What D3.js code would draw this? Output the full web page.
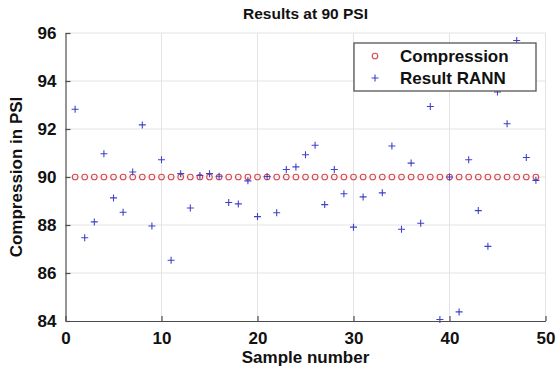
<!DOCTYPE html>
<html>
<head>
<meta charset="utf-8">
<script src="https://cdn.jsdelivr.net/npm/d3@7"></script>
<style>
  html, body { margin: 0; padding: 0; background: #fff; }
  svg { display: block; font-family: "Liberation Sans", Arial, sans-serif; }
</style>
</head>
<body>
<svg id="chart" width="560" height="372"></svg>
<script>
const samples = [1,2,3,4,5,6,7,8,9,10,11,12,13,14,15,16,17,18,19,20,21,22,23,24,25,26,27,28,29,30,31,32,33,34,35,36,37,38,39,40,41,42,43,44,45,46,47,48,49];
const compression = [90,90,90,90,90,90,90,90,90,90,90,90,90,90,90,90,90,90,90,90,90,90,90,90,90,90,90,90,90,90,90,90,90,90,90,90,90,90,90,90,90,90,90,90,90,90,90,90,90];
const rann = [92.82, 87.47, 88.13, 90.97, 89.13, 88.53, 90.21, 92.17, 87.96, 90.72,
              86.53, 90.14, 88.71, 90.06, 90.14, 90.03, 88.94, 88.88, 89.84, 88.35,
              90.02, 88.51, 90.31, 90.42, 90.93, 91.32, 88.85, 90.31, 89.30, 87.91,
              89.17, null, 89.34, 91.29, 87.82, 90.58, 88.07, 92.94, 84.06, 90.00,
              84.38, 90.72, 88.60, 87.11, 93.54, 92.22, 95.69, 90.81, 89.86];
const xTicks = [0, 10, 20, 30, 40, 50];
const yTicks = [84, 86, 88, 90, 92, 94, 96];
const seriesNames = ["Compression", "Result RANN"];
const titleText = "Results at 90 PSI";
const xLabel = "Sample number";
const yLabel = "Compression in PSI";

const svg = d3.select("#chart");
const pL = 65.5, pR = 545.5, pT = 33, pB = 321;
const x = d3.scaleLinear().domain([0, 50]).range([pL, pR]);
const y = d3.scaleLinear().domain([84, 96]).range([pB, pT]);

const axisColor = "#4d4d4d";
const gridColor = "#e3e3e3";
const blue = "#4040c8";
const red = "#d9484e";

// grid
svg.append("g").selectAll("line").data(xTicks.filter(d => d > 0)).join("line")
  .attr("x1", d => x(d)).attr("x2", d => x(d))
  .attr("y1", pT).attr("y2", pB)
  .attr("stroke", gridColor).attr("stroke-width", 1);
svg.append("g").selectAll("line").data(yTicks.filter(d => d > 84)).join("line")
  .attr("x1", pL).attr("x2", pR)
  .attr("y1", d => y(d)).attr("y2", d => y(d))
  .attr("stroke", gridColor).attr("stroke-width", 1);

// axes
const xAxis = d3.axisBottom(x).tickValues(xTicks).tickSizeInner(-5).tickSizeOuter(0).tickPadding(11);
const yAxis = d3.axisLeft(y).tickValues(yTicks).tickSizeInner(-5).tickSizeOuter(0).tickPadding(9);

const gx = svg.append("g").attr("transform", `translate(0,${pB})`).call(xAxis);
const gy = svg.append("g").attr("transform", `translate(${pL},0)`).call(yAxis);
[gx, gy].forEach(g => {
  g.select(".domain").attr("stroke", axisColor).attr("stroke-width", 1.2);
  g.selectAll(".tick line").attr("stroke", axisColor).attr("stroke-width", 1.2);
  g.selectAll(".tick text").attr("fill", "#111").attr("font-size", 17).attr("font-weight", "bold")
    .attr("font-family", "'Liberation Sans', Arial, sans-serif");
});

// clip
svg.append("clipPath").attr("id", "plotclip").append("rect")
  .attr("x", pL - 4).attr("y", pT - 4).attr("width", pR - pL + 8).attr("height", pB - pT + 8);

const plot = svg.append("g").attr("clip-path", "url(#plotclip)");

// compression circles
plot.append("g").selectAll("circle").data(samples.map((s, i) => [s, compression[i]])).join("circle")
  .attr("cx", d => x(d[0])).attr("cy", d => y(d[1])).attr("r", 2.8)
  .attr("fill", "none").attr("stroke", red).attr("stroke-width", 1.1);

// RANN pluses
const ps = 3.5;
const rannPts = samples.map((s, i) => [s, rann[i]]).filter(d => d[1] !== null);
plot.append("g").selectAll("path").data(rannPts).join("path")
  .attr("d", d => `M${x(d[0]) - ps},${y(d[1])}H${x(d[0]) + ps}M${x(d[0])},${y(d[1]) - ps}V${y(d[1]) + ps}`)
  .attr("stroke", blue).attr("stroke-width", 1.1).attr("fill", "none");

// title and labels
svg.append("text").attr("x", (pL + pR) / 2).attr("y", 19).attr("text-anchor", "middle")
  .attr("font-size", 15.5).attr("font-weight", "bold").attr("fill", "#111").text(titleText);
svg.append("text").attr("x", (pL + pR) / 2).attr("y", 363).attr("text-anchor", "middle")
  .attr("font-size", 17).attr("font-weight", "bold").attr("fill", "#111").text(xLabel);
svg.append("text").attr("transform", `translate(22,${(pT + pB) / 2}) rotate(-90)`).attr("text-anchor", "middle")
  .attr("font-size", 17).attr("font-weight", "bold").attr("fill", "#111").text(yLabel);

// legend
const lg = svg.append("g");
lg.append("rect").attr("x", 354).attr("y", 43).attr("width", 182).attr("height", 48)
  .attr("fill", "#fff").attr("stroke", "#555").attr("stroke-width", 1.3);
lg.append("circle").attr("cx", 375).attr("cy", 56).attr("r", 2.8)
  .attr("fill", "none").attr("stroke", red).attr("stroke-width", 1.1);
lg.append("path").attr("d", `M${375 - ps},78H${375 + ps}M375,${78 - ps}V${78 + ps}`)
  .attr("stroke", blue).attr("stroke-width", 1.1);
lg.selectAll("text").data(seriesNames).join("text")
  .attr("x", 400).attr("y", (d, i) => 62 + i * 22)
  .attr("font-size", 17).attr("font-weight", "bold").attr("fill", "#111").text(d => d);
</script>
</body>
</html>
